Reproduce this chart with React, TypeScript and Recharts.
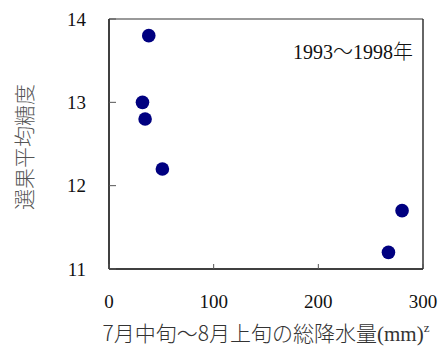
import { ScatterChart, Scatter, XAxis, YAxis, ReferenceLine, Label } from "recharts";

// 7月中旬～8月上旬の総降水量 (mm) vs 選果平均糖度, 1993-1998
const rainfall = [38, 32, 34.5, 51, 267, 280];
const sugar = [13.8, 13.0, 12.8, 12.2, 11.2, 11.7];
const xTicks = [0, 100, 200, 300];
const yTicks = [11, 12, 13, 14];

const data = rainfall.map((r, i) => ({ rain: r, brix: sugar[i] }));

const SERIF = '"Liberation Serif", "Times New Roman", serif';
const CJK = '"Noto Sans CJK JP", "Noto Sans", sans-serif';

function XTick(props: any) {
  const { x, y, payload } = props;
  const axisY = y - 26;
  return (
    <g>
      <line x1={x} x2={x} y1={axisY} y2={axisY - 5} stroke="#555" strokeWidth={1} />
      <text x={x} y={y} dy="0.71em" textAnchor="middle" fontFamily={SERIF} fontSize={19} fill="#111">
        {payload.value}
      </text>
    </g>
  );
}

function YTick(props: any) {
  const { x, y, payload } = props;
  const axisX = x + 23;
  return (
    <g>
      <line x1={axisX} x2={axisX + 7} y1={y} y2={y} stroke="#555" strokeWidth={1} />
      <text x={x} y={y} dy="0.355em" textAnchor="end" fontFamily={SERIF} fontSize={19} fill="#111">
        {payload.value}
      </text>
    </g>
  );
}

const dot = (props: any) => <circle cx={props.cx} cy={props.cy} r={6.8} fill="#000080" />;

export default function App() {
  return (
    <div style={{ position: "absolute", left: 0, top: 0 }}>
      <ScatterChart width={443} height={353} margin={{ top: 19, right: 20, bottom: 0, left: 0 }}>
        <XAxis
          type="number"
          dataKey="rain"
          domain={[0, 300]}
          ticks={xTicks}
          height={84}
          tickSize={0}
          tickMargin={26}
          tick={XTick}
          stroke="#000"
          strokeWidth={1.5}
        >
          <Label
            content={(p: any) => {
              const vb = p.viewBox;
              return (
                <text x={vb.x + vb.width / 2} y={vb.y + 72} textAnchor="middle" fontFamily={CJK} fontWeight={300} fontSize={21} fill="#333">
                  7月中旬～8月上旬の総降水量
                  <tspan fontFamily={SERIF} fontWeight={400}>(mm)</tspan>
                  <tspan fontFamily={SERIF} fontWeight={400} fontSize={13} dy={-9}>z</tspan>
                </text>
              );
            }}
          />
        </XAxis>
        <YAxis
          type="number"
          dataKey="brix"
          domain={[11, 14]}
          ticks={yTicks}
          width={109}
          tickSize={0}
          tickMargin={23}
          tick={YTick}
          stroke="#000"
          strokeWidth={1.5}
        >
          <Label
            content={() => (
              <text
                x={22.5}
                y={147}
                transform="rotate(-90 22.5 147)"
                textAnchor="middle"
                dominantBaseline="central"
                fontFamily={CJK}
                fontWeight={300}
                fontSize={21}
                fill="#555"
              >
                選果平均糖度
              </text>
            )}
          />
        </YAxis>
        <ReferenceLine y={14} stroke="#777" strokeWidth={1.5} />
        <ReferenceLine x={300} stroke="#333" strokeWidth={1.5} />
        <ReferenceLine y={13.6} stroke="none">
          <Label
            content={(p: any) => {
              const vb = p.viewBox;
              return (
                <text x={vb.x + vb.width - 10} y={vb.y + 7} textAnchor="end" fontFamily={SERIF} fontSize={20} fill="#111">
                  1993<tspan fontFamily={CJK} fontWeight={300}>～</tspan>1998<tspan fontFamily={CJK} fontWeight={300}>年</tspan>
                </text>
              );
            }}
          />
        </ReferenceLine>
        <Scatter data={data} shape={dot} isAnimationActive={false} />
      </ScatterChart>
    </div>
  );
}
